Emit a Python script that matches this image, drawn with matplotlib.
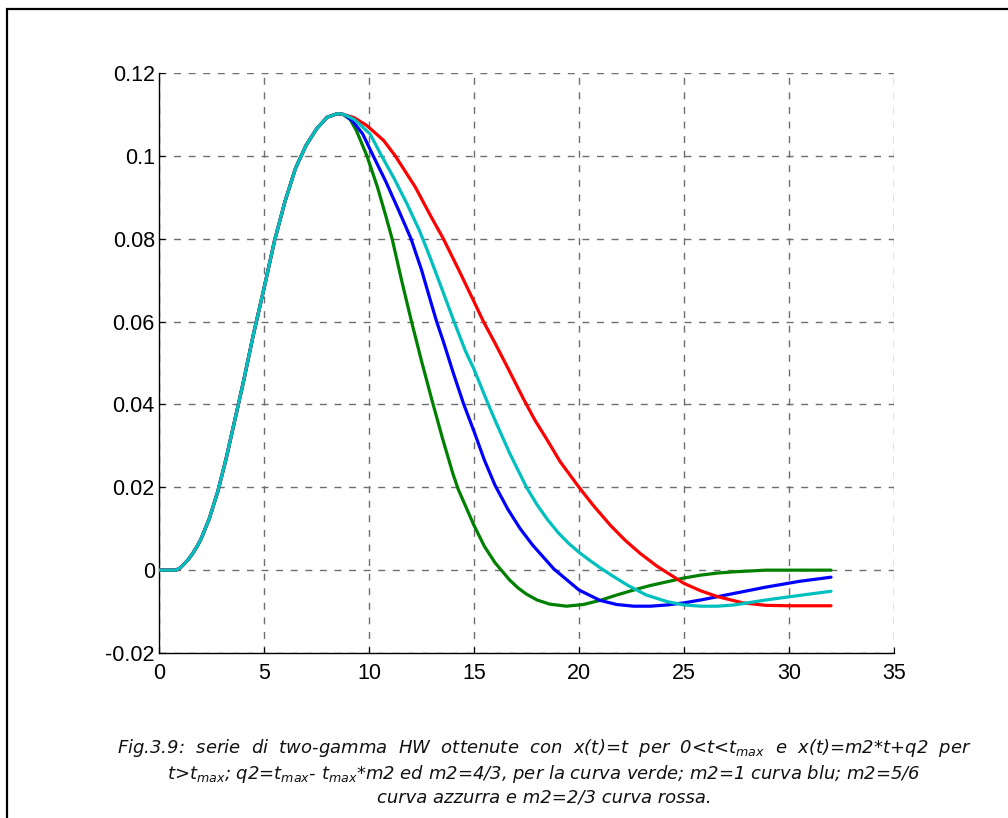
import matplotlib
matplotlib.use("Agg")
import matplotlib.pyplot as plt
from matplotlib.patches import Rectangle

# shared rising part
t_rise = [0, 0.8, 1.0, 1.2, 1.4, 1.6, 1.8, 2.0, 2.4, 2.8, 3.2, 3.6, 4.0, 4.5, 5.0, 5.5, 6.0, 6.5,
          7.0, 7.5, 8.0, 8.5]
y_rise = [0, 0, 0.0005, 0.0015, 0.0026, 0.004, 0.0056, 0.0075, 0.0125, 0.019, 0.027, 0.036, 0.045,
          0.057, 0.068, 0.0795, 0.089, 0.097, 0.1025, 0.1065, 0.1093, 0.1102]

# green (m2=4/3)
t_green = [8.8, 9.1, 9.4, 9.9, 10.4, 10.8, 11.1, 11.55, 12.0, 12.5, 13.0, 13.5, 14.0, 14.25, 15.0,
           15.5, 16.0, 16.3, 16.7, 17.1, 17.5, 18.0, 18.6, 19.4, 20.2, 21.0, 21.8, 22.6, 23.4,
           24.2, 25.0, 25.8, 26.6, 27.4, 28.9, 30.5, 32.0]
y_green = [0.1099, 0.1088, 0.1061, 0.1000, 0.0925, 0.0855, 0.0800, 0.0700, 0.0605, 0.0505, 0.0410,
           0.0318, 0.0232, 0.0195, 0.0108, 0.0057, 0.0018, 0.0000, -0.0024, -0.0043, -0.0058,
           -0.0072, -0.0082, -0.0087, -0.0083, -0.0073, -0.0060, -0.0048, -0.0037, -0.0028,
           -0.0019, -0.0012, -0.0007, -0.0004, 0.0, 0.0, 0.0]

# blue (m2=1)
t_blue = [8.8, 9.2, 9.7, 10.2, 10.8, 11.4, 12.0, 12.5, 12.9, 13.22, 13.54, 14.0, 14.5, 15.0, 15.5,
          16.0, 16.6, 17.2, 17.8, 18.8, 20.0, 21.0, 21.8, 22.6, 23.4, 24.2, 25.0, 25.8, 26.6,
          27.4, 28.9, 30.5, 32.0]
y_blue = [0.1100, 0.1085, 0.1053, 0.1000, 0.0938, 0.0870, 0.0800, 0.0725, 0.0655, 0.0600, 0.0552,
          0.0478, 0.0402, 0.0335, 0.0265, 0.0205, 0.0148, 0.0100, 0.0060, 0.0003, -0.0048,
          -0.0073, -0.0083, -0.0087, -0.0087, -0.0084, -0.0079, -0.0072, -0.0064, -0.0056,
          -0.0041, -0.0027, -0.0017]

# cyan (m2=5/6)
t_cyan = [8.8, 9.3, 10.05, 10.6, 11.2, 11.8, 12.4, 12.9, 13.5, 14.05, 14.6, 15.0, 15.6, 16.0, 16.7,
          17.5, 18.0, 18.5, 19.0, 19.5, 20.0, 20.5, 21.0, 21.6, 22.3, 23.2, 24.2, 25.0, 25.8,
          26.6, 27.4, 28.9, 30.5, 32.0]
y_cyan = [0.1100, 0.1088, 0.1053, 0.1000, 0.0945, 0.0885, 0.0820, 0.0756, 0.0675, 0.0600, 0.0528,
          0.0485, 0.0410, 0.0362, 0.0282, 0.0200, 0.0158, 0.0122, 0.0091, 0.0065, 0.0043, 0.0024,
          0.0006, -0.0014, -0.0036, -0.0060, -0.0076, -0.0084, -0.0087, -0.0087, -0.0084,
          -0.0072, -0.0061, -0.0051]

# red (m2=2/3)
t_red = [8.8, 9.3, 9.9, 10.7, 11.25, 12.2, 13.0, 13.54, 14.3, 15.0, 15.45, 16.0, 16.55, 17.35, 17.9,
         18.5, 19.1, 20.0, 20.7, 21.5, 22.2, 22.9, 23.7, 25.0, 25.8, 26.6, 27.8, 28.9, 30.0, 32.0]
y_red = [0.1100, 0.1092, 0.1073, 0.1037, 0.1000, 0.0925, 0.0849, 0.0800, 0.0722, 0.0648, 0.0600,
         0.0548, 0.0494, 0.0414, 0.0362, 0.0313, 0.0262, 0.0200, 0.0155, 0.0108, 0.0072, 0.0041,
         0.0010, -0.0032, -0.0050, -0.0064, -0.0079, -0.0085, -0.0086, -0.0086]

x_ticks = [0, 5, 10, 15, 20, 25, 30, 35]
y_ticks = [-0.02, 0, 0.02, 0.04, 0.06, 0.08, 0.1, 0.12]
y_tick_labels = ["-0.02", "0", "0.02", "0.04", "0.06", "0.08", "0.1", "0.12"]

caption = [
    "Fig.3.9:  serie  di  two-gamma  HW  ottenute  con  x(t)=t  per  0<t<$t_{max}$  e  x(t)=m2*t+q2  per",
    "t>$t_{max}$; q2=$t_{max}$- $t_{max}$*m2 ed m2=4/3, per la curva verde; m2=1 curva blu; m2=5/6",
    "curva azzurra e m2=2/3 curva rossa.",
]

plt.rcParams['font.family'] = ['Liberation Sans', 'DejaVu Sans']

fig = plt.figure(figsize=(10.08, 8.18), dpi=100)
ax = fig.add_axes([159 / 1008, 1 - 653 / 818, 735 / 1008, 580 / 818])

series = [
    (t_green, y_green, '#008000'),
    (t_blue, y_blue, '#0000FF'),
    (t_red, y_red, '#FF0000'),
    (t_cyan, y_cyan, '#00BFBF'),
]
for tt, yy, col in series:
    ax.plot(list(t_rise) + list(tt), list(y_rise) + list(yy), color=col, lw=2.3,
            solid_joinstyle='round', solid_capstyle='round', zorder=3)

ax.set_xlim(0, 35)
ax.set_ylim(-0.02, 0.12)
ax.set_xticks(x_ticks)
ax.set_xticklabels([str(v) for v in x_ticks])
ax.set_yticks(y_ticks)
ax.set_yticklabels(y_tick_labels)
ax.grid(True, color='#6e6e6e', linestyle=(0, (5, 5.5)), linewidth=1.0)
ax.spines['top'].set_visible(False)
ax.spines['right'].set_visible(False)
ax.spines['left'].set_linewidth(1.0)
ax.spines['bottom'].set_linewidth(1.0)
ax.tick_params(direction='in', length=4, labelsize=15.5)
ax.tick_params(axis='y', pad=3)
ax.tick_params(axis='x', pad=7)

ys = [753, 779, 803]
for line, yb in zip(caption, ys):
    fig.text(544 / 1008, 1 - yb / 818, line, ha='center', va='baseline', fontsize=13,
             style='italic', family='DejaVu Sans', color='#111111')

rect = Rectangle((7 / 1008, -0.1), 1.2, 1.1 - 9.5 / 818, transform=fig.transFigure,
                 fill=False, edgecolor='black', linewidth=1.6, clip_on=False)
fig.patches.append(rect)

fig.savefig("out.png", dpi=100)
